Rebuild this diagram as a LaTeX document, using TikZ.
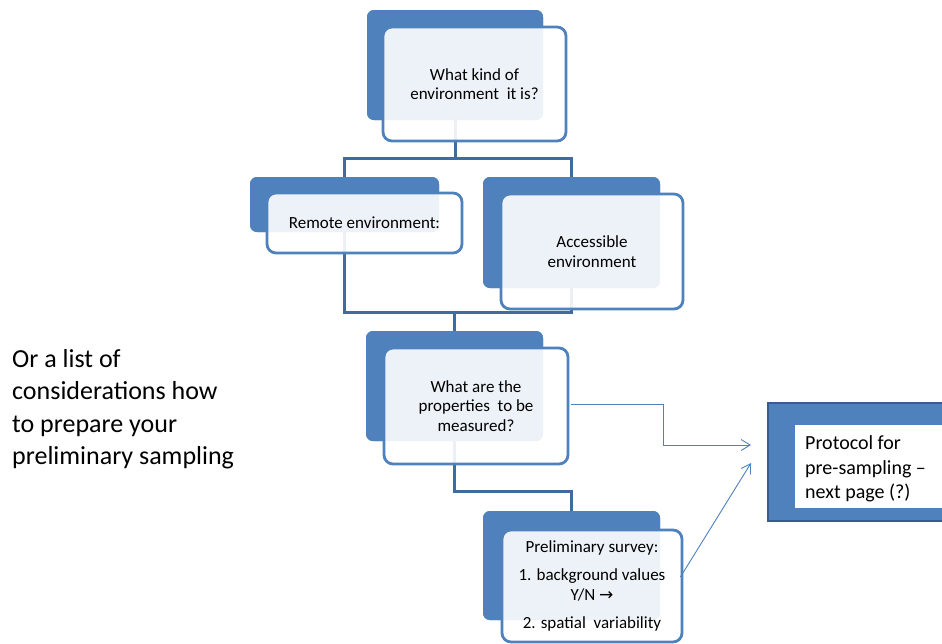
\documentclass[tikz,border=0pt]{standalone}
\usepackage{fontspec}
\setmainfont{Carlito}
\newfontfamily\dvfont{DejaVu Sans}
\usetikzlibrary{arrows.meta,calc}
\definecolor{accent}{RGB}{79,129,189}
\definecolor{linec}{RGB}{65,106,158}
\definecolor{protborder}{RGB}{56,93,138}
\begin{document}
\begin{tikzpicture}[x=1pt,y=-1pt,
  back/.style={fill=accent, rounded corners=7pt, inner sep=0pt, draw=none},
  front/.style={draw=accent, line width=2.8pt, fill=white, fill opacity=0.9, text opacity=1,
    rounded corners=9pt, align=center, inner sep=0pt,
    font=\fontsize{17}{19.5}\selectfont},
  conn/.style={draw=linec, line width=3pt},
  arr/.style={draw=accent, line width=0.9pt, -{Straight Barb[length=9pt,width=11pt]}}
]
\useasboundingbox (0,0) rectangle (942,643);
\clip (0,0) rectangle (942,643);
\fill[white] (0,0) rectangle (942,643);

% back boxes (positions)
\path
  node[back, minimum width=176pt, minimum height=110pt] (b1back) at (455,65) {}
  node[back, minimum width=189pt, minimum height=55pt] (b2back) at (344.5,204.5) {}
  node[back, minimum width=177pt, minimum height=111pt] (b3back) at (571.5,232.5) {}
  node[back, minimum width=177pt, minimum height=110pt] (b4back) at (454.5,386) {}
  node[back, minimum width=177pt, minimum height=109pt] (b5back) at (571.5,565.5) {};

% connectors (under the boxes)
\coordinate (j1) at ($(b1back.south)+(0,38)$);
\coordinate (j2) at ($(b4back.north)+(0,-18)$);
\coordinate (j3) at ($(b5back.north)+(0,-19)$);
\draw[conn] (b1back.south) -- (j1);
\draw[conn] (b2back.north) |- (j1) -| (b3back.north);
\draw[conn] (b2back.south) |- (j2) -| (b3back.south);
\draw[conn] (j2) -- (b4back.north);
\draw[conn] (b4back.south) |- (j3) -- (b5back.north);

% redraw back boxes over connectors
\path
  node[back, minimum width=176pt, minimum height=110pt] at (b1back) {}
  node[back, minimum width=189pt, minimum height=55pt] at (b2back) {}
  node[back, minimum width=177pt, minimum height=111pt] at (b3back) {}
  node[back, minimum width=177pt, minimum height=110pt] at (b4back) {}
  node[back, minimum width=177pt, minimum height=109pt] at (b5back) {};

% front boxes
\node[front, minimum width=183pt, minimum height=114pt] (b1front) at (474.5,84)
  {What kind of\\environment\ \ it is?};
\node[front, minimum width=195pt, minimum height=60pt] (b2front) at (364.5,223)
  {Remote environment:};
\node[front, minimum width=182pt, minimum height=115pt] (b3front) at (592,251.5)
  {Accessible\\environment};
\node[front, minimum width=184pt, minimum height=116pt] (b4front) at (476,406)
  {What are the\\properties\ \ to be\\measured?};
\node[front, minimum width=180pt, minimum height=112pt] (b5front) at (592,586)
  {Preliminary survey:\\[9pt]1. background values\\Y/N {\dvfont\fontsize{17}{19.5}\selectfont →}\\[9pt]2. spatial\ \ variability};

% protocol box
\node[fill=accent, draw=protborder, line width=2pt, minimum width=212pt, minimum height=118pt, inner sep=0pt] (prot) at (874,462) {};
\node[fill=white, draw=none, minimum width=185pt, minimum height=83pt, inner sep=0pt] (protin) at (887.5,466.5) {};
\node[anchor=west, align=left, inner sep=0pt, font=\fontsize{20}{24.5}\selectfont] (prottext) at (805,469)
  {Protocol for\\pre-sampling –\\next page (?)};

% arrows to protocol
\coordinate (t1) at ($(prot.west)+(-16,-17)$);
\coordinate (t2) at ($(prot.west)+(-16,1)$);
\draw[arr] ($(b4front.east)+(2,-2)$) -- ++(92,0) |- (t1);
\draw[arr] ($(b5front.east)+(-3,-9)$) -- (t2);

% side note
\node[anchor=west, align=left, inner sep=0pt, font=\fontsize{26}{32.5}\selectfont] (note) at (12,409)
  {Or a list of\\considerations how\\to prepare your\\preliminary sampling};
\end{tikzpicture}
\end{document}
